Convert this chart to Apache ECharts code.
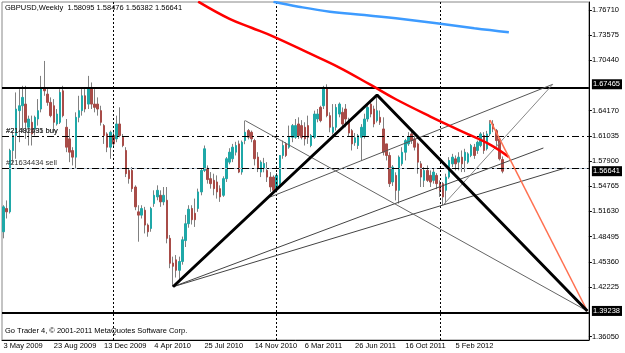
<!DOCTYPE html>
<html>
<head>
<meta charset="utf-8">
<script src="https://cdn.jsdelivr.net/npm/echarts@6/dist/echarts.min.js"></script>
<style>
  html, body { margin: 0; padding: 0; background: #fff; }
  #main { width: 625px; height: 353px; }
</style>
</head>
<body>
<div id="main"></div>
<script>
// weekly bars, first one is the week of 3 May 2009
var firstWeek = Date.UTC(2009, 4, 3)
var weekCount = 187
var monthNames = ['Jan', 'Feb', 'Mar', 'Apr', 'May', 'Jun', 'Jul', 'Aug', 'Sep', 'Oct', 'Nov', 'Dec']

var opens = [1.4910, 1.5199, 1.5158, 1.5922, 1.6108, 1.6418, 1.6479, 1.6500, 1.6211, 1.6273,
  1.6190, 1.6314, 1.6438, 1.6707, 1.6624, 1.6521, 1.6479, 1.6252, 1.6273, 1.6665,
  1.6211, 1.6067, 1.5921, 1.5839, 1.6335, 1.6418, 1.6603, 1.6500, 1.6707, 1.6500,
  1.6500, 1.6418, 1.6232, 1.6128, 1.5963, 1.6108, 1.6067, 1.6252, 1.6087, 1.5922,
  1.5674, 1.5674, 1.5467, 1.5158, 1.5117, 1.5178, 1.4993, 1.4951, 1.5261, 1.5344,
  1.5364, 1.5282, 1.5302, 1.4828, 1.4520, 1.4560, 1.4430, 1.4540, 1.4800, 1.5010,
  1.5200, 1.5140, 1.5200, 1.5406, 1.5674, 1.5700, 1.5571, 1.5550, 1.5530, 1.5447,
  1.5364, 1.5571, 1.5777, 1.5819, 1.5901, 1.6004, 1.5653, 1.6046, 1.6170, 1.6149,
  1.6046, 1.5840, 1.5653, 1.5695, 1.5674, 1.5591, 1.5591, 1.5447, 1.5509, 1.5860,
  1.6004, 1.5963, 1.6087, 1.6087, 1.6252, 1.6232, 1.6211, 1.6232, 1.5984, 1.6087,
  1.6314, 1.6459, 1.6479, 1.6707, 1.6356, 1.6149, 1.6211, 1.6376, 1.6397, 1.6438,
  1.6290, 1.6169, 1.6020, 1.5984, 1.6087, 1.6107, 1.6314, 1.6500, 1.6438, 1.6293,
  1.6335, 1.6190, 1.6004, 1.5860, 1.5530, 1.5612, 1.5426, 1.5756, 1.5900, 1.6004,
  1.6128, 1.6066, 1.6004, 1.5756, 1.5550, 1.5674, 1.5612, 1.5550, 1.5612, 1.5509,
  1.5509, 1.5426, 1.5591, 1.5756, 1.5818, 1.5777, 1.5839, 1.5798, 1.5777, 1.5860,
  1.5963, 1.5922, 1.5984, 1.6108, 1.5943, 1.6128, 1.6252, 1.6169, 1.6066, 1.58095]

var closes = [1.5220, 1.5158, 1.5922, 1.6108, 1.6438, 1.6479, 1.6583, 1.6273, 1.6314, 1.6128,
  1.6335, 1.6418, 1.6707, 1.6665, 1.6521, 1.6356, 1.6273, 1.6376, 1.6645, 1.6356,
  1.5963, 1.5901, 1.5839, 1.6335, 1.6418, 1.6603, 1.6438, 1.6707, 1.6500, 1.6459,
  1.6438, 1.6273, 1.6108, 1.5963, 1.6149, 1.6004, 1.6252, 1.6108, 1.5984, 1.5633,
  1.5571, 1.5447, 1.5220, 1.5117, 1.5199, 1.4993, 1.4910, 1.5199, 1.5364, 1.5426,
  1.5282, 1.5364, 1.4828, 1.4518, 1.4480, 1.4430, 1.4540, 1.4810, 1.5010, 1.5190,
  1.5060, 1.5060, 1.5406, 1.5674, 1.5943, 1.5560, 1.5509, 1.5447, 1.5406, 1.5344,
  1.5571, 1.5819, 1.5901, 1.5963, 1.5984, 1.5653, 1.6025, 1.6149, 1.6087, 1.6067,
  1.5819, 1.5695, 1.5777, 1.5760, 1.5591, 1.5468, 1.5426, 1.5612, 1.5860, 1.5984,
  1.5860, 1.6087, 1.6232, 1.6232, 1.6108, 1.6087, 1.6067, 1.6087, 1.6108, 1.6376,
  1.6376, 1.6294, 1.6707, 1.6356, 1.6211, 1.6211, 1.6458, 1.6500, 1.6252, 1.6314,
  1.6140, 1.6004, 1.6080, 1.6107, 1.6211, 1.6314, 1.6458, 1.6376, 1.6252, 1.6417,
  1.6273, 1.5901, 1.5860, 1.5509, 1.5715, 1.5426, 1.5839, 1.5900, 1.6045, 1.6087,
  1.6045, 1.5963, 1.5777, 1.5591, 1.5674, 1.5550, 1.5529, 1.5653, 1.5509, 1.5426,
  1.5343, 1.5591, 1.5798, 1.5839, 1.5756, 1.5839, 1.5756, 1.5900, 1.5880, 1.5984,
  1.5860, 1.6025, 1.6128, 1.5922, 1.6128, 1.6252, 1.6190, 1.6045, 1.5818, 1.56641]

var lows = [1.4828, 1.5075, 1.5137, 1.5750, 1.5819, 1.6025, 1.6149, 1.6067, 1.5984, 1.5984,
  1.6108, 1.6232, 1.6397, 1.6603, 1.6479, 1.6335, 1.6149, 1.6232, 1.6252, 1.6335,
  1.5901, 1.5777, 1.5736, 1.5695, 1.6273, 1.6356, 1.6397, 1.6438, 1.6438, 1.6397,
  1.6356, 1.6232, 1.6004, 1.5901, 1.5819, 1.5963, 1.6025, 1.6087, 1.5963, 1.5591,
  1.5509, 1.5406, 1.5178, 1.4786, 1.5075, 1.4889, 1.4848, 1.4910, 1.5220, 1.5302,
  1.5220, 1.5240, 1.4766, 1.4456, 1.4225, 1.4340, 1.4300, 1.4500, 1.4720, 1.4960,
  1.5000, 1.4970, 1.5158, 1.5364, 1.5653, 1.5509, 1.5447, 1.5364, 1.5323, 1.5282,
  1.5344, 1.5530, 1.5750, 1.5777, 1.5860, 1.5640, 1.5620, 1.6000, 1.6060, 1.6025,
  1.5736, 1.5653, 1.5591, 1.5650, 1.5530, 1.5406, 1.5385, 1.5400, 1.5468, 1.5819,
  1.5840, 1.5943, 1.6025, 1.6067, 1.6067, 1.6060, 1.5984, 1.6004, 1.5963, 1.6067,
  1.6273, 1.6273, 1.6438, 1.6335, 1.6149, 1.6120, 1.6169, 1.6335, 1.6211, 1.6211,
  1.6100, 1.5922, 1.5980, 1.5940, 1.5798, 1.6070, 1.6280, 1.6335, 1.6211, 1.6270,
  1.6240, 1.5860, 1.5798, 1.5467, 1.5480, 1.5300, 1.5261, 1.5730, 1.5798, 1.5980,
  1.6004, 1.5922, 1.5633, 1.5467, 1.5467, 1.5530, 1.5467, 1.5509, 1.5440, 1.5343,
  1.5240, 1.5261, 1.5570, 1.5715, 1.5674, 1.5674, 1.5653, 1.5653, 1.5756, 1.5839,
  1.5818, 1.5880, 1.5963, 1.5880, 1.5922, 1.6100, 1.6150, 1.5980, 1.5798, 1.56382]

var highs = [1.5240, 1.5300, 1.5943, 1.6170, 1.6645, 1.6686, 1.6727, 1.6727, 1.6356, 1.6356,
  1.6356, 1.6562, 1.6851, 1.7037, 1.6686, 1.6583, 1.6562, 1.6438, 1.6686, 1.6727,
  1.6314, 1.6190, 1.5963, 1.6397, 1.6603, 1.6686, 1.6686, 1.6851, 1.6769, 1.6686,
  1.6583, 1.6479, 1.6252, 1.6149, 1.6170, 1.6170, 1.6356, 1.6459, 1.6128, 1.5963,
  1.5695, 1.5715, 1.5488, 1.5240, 1.5240, 1.5220, 1.5013, 1.5220, 1.5426, 1.5488,
  1.5426, 1.5467, 1.5467, 1.4869, 1.4600, 1.4620, 1.4600, 1.4850, 1.5120, 1.5240,
  1.5240, 1.5323, 1.5447, 1.5695, 1.5984, 1.5736, 1.5653, 1.5633, 1.5612, 1.5488,
  1.5600, 1.5840, 1.5950, 1.6004, 1.6030, 1.6046, 1.6046, 1.6294, 1.6190, 1.6170,
  1.6067, 1.5901, 1.5800, 1.5830, 1.5777, 1.5653, 1.5612, 1.5640, 1.5860, 1.6046,
  1.6025, 1.6232, 1.6252, 1.6314, 1.6335, 1.6300, 1.6273, 1.6356, 1.6128, 1.6418,
  1.6438, 1.6479, 1.6727, 1.6746, 1.6397, 1.6500, 1.6500, 1.6520, 1.6458, 1.6500,
  1.6330, 1.6190, 1.6140, 1.6128, 1.6250, 1.6380, 1.6480, 1.6530, 1.6480, 1.6600,
  1.6420, 1.6335, 1.6000, 1.5900, 1.5740, 1.5650, 1.5860, 1.5963, 1.6066, 1.6150,
  1.6166, 1.6100, 1.6020, 1.5790, 1.5715, 1.5736, 1.5674, 1.5700, 1.5640, 1.5550,
  1.5530, 1.5633, 1.5839, 1.5880, 1.5860, 1.5900, 1.5922, 1.5943, 1.5900, 1.6004,
  1.6004, 1.6045, 1.6150, 1.6150, 1.6166, 1.6300, 1.6300, 1.6190, 1.6080, 1.58476]

// moving averages, [bar index, price]
var maRed = [[62, 1.7775], [72, 1.7560], [79, 1.7450], [86, 1.7340], [97, 1.7140], [107, 1.6955],
  [117, 1.6738], [125, 1.6560], [136, 1.6345], [146, 1.6160], [155, 1.5995], [161, 1.5841]]
var maBlue = [[86, 1.7775], [94, 1.7713], [104, 1.7651], [115, 1.7610], [125, 1.7568],
  [138, 1.7506], [150, 1.7444], [161, 1.7394]]

// drawn objects
var apex = [186, 1.3923]
var bigTriangle = [[54, 1.4225], [119, 1.6613], apex]
var redFall = [[155, 1.6300], apex]
var grayFall = [[77, 1.6294], apex]
var fanA = [[54, 1.4225], [172, 1.5953]]
var fanB = [[54, 1.4225], [179, 1.5704]]
var riseA = [[85, 1.5343], [175, 1.6746]]
var riseB = [[140, 1.5240], [175, 1.6746]]
var levelLines = [1.67465, 1.39238]
var orders = [
  {name: '#21482491 buy', price: 1.6144, color: '#9a9a9a'},
  {name: '#21491535 buy', price: 1.6074, color: '#000'},
  {name: '#21634434 sell', price: 1.5688, color: '#000'}
]
var bid = 1.56641
var separators = [35, 87, 139]

var yTicks = [1.36050, 1.42225, 1.45360, 1.48495, 1.51630, 1.54765, 1.57900, 1.61035,
  1.64170, 1.70440, 1.73575, 1.76710]
var boxed = [1.67465, 1.56641, 1.39238]

var dates = []
for (var w = 0; w < weekCount; w++) {
  var d = new Date(firstWeek + w * 7 * 86400000)
  dates.push(d.getUTCDate() + ' ' + monthNames[d.getUTCMonth()] + ' ' + d.getUTCFullYear())
}

var wickData = lows.map(function(l, i) { return [l, l, l, highs[i]] })
var bodyData = opens.map(function(o, i) {
  var c = closes[i]
  return [o, c, Math.min(o, c), Math.max(o, c)]
})

// date labels only every 16 weeks and only under real bars
function dateStep(index) {
  return index % 16 === 0 && index < opens.length
}

function segment(data, color, width, z, smooth) {
  return {
    type: 'line', data: data, symbol: 'none', silent: true, z: z || 5, smooth: smooth || false,
    lineStyle: {color: color, width: width}
  }
}

var font = 'Liberation Sans'
var myChart = echarts.init(document.getElementById('main'))
var option = {
  animation: false,
  backgroundColor: '#fff',
  textStyle: {fontFamily: font},
  grid: {left: 2, right: 32, top: 2, bottom: 13, show: true, borderColor: '#888', borderWidth: 1},
  xAxis: {
    type: 'category',
    data: dates,
    boundaryGap: true,
    axisLine: {lineStyle: {color: '#000'}},
    axisTick: {interval: dateStep, alignWithLabel: true, length: 3, lineStyle: {color: '#000'}},
    axisLabel: {interval: dateStep, align: 'left', margin: 2, fontSize: 7.5, color: '#000', fontFamily: font},
    splitLine: {show: false}
  },
  yAxis: {
    type: 'value',
    position: 'right',
    min: 1.3562,
    max: 1.7771,
    axisLine: {show: true, lineStyle: {color: '#000'}},
    axisTick: {show: true, length: 3, customValues: yTicks, lineStyle: {color: '#000'}},
    splitLine: {show: false},
    axisLabel: {
      customValues: yTicks.concat(boxed),
      margin: 3,
      fontSize: 7.5,
      color: '#000',
      fontFamily: font,
      formatter: function(v) {
        var s = v.toFixed(5)
        return boxed.indexOf(v) >= 0 ? '{box|' + s + '}' : s
      },
      rich: {
        box: {backgroundColor: '#000', color: '#fff', fontSize: 7.5, fontFamily: font, padding: [1, 2, 1, 1]}
      }
    }
  },
  graphic: [
    {type: 'text', left: 5, top: 4, style: {text: 'GBPUSD,Weekly  1.58095 1.58476 1.56382 1.56641', fill: '#000', font: '7.5px ' + font}},
    {type: 'text', left: 5, top: 327, style: {text: 'Go Trader 4, \u00a9 2001-2011 MetaQuotes Software Corp.', fill: '#000', font: '7.5px ' + font}}
  ],
  series: [
    {
      name: 'wick', type: 'candlestick', data: wickData, barWidth: 1, silent: true, z: 2,
      itemStyle: {color: '#808080', color0: '#808080', borderColor: '#808080', borderColor0: '#808080', borderWidth: 1}
    },
    {
      name: 'GBPUSD', type: 'candlestick', data: bodyData, barWidth: 2, silent: true, z: 3,
      itemStyle: {color: '#1fa8a8', color0: '#a84c48', borderColor: '#1fa8a8', borderColor0: '#a84c48', borderWidth: 1},
      markLine: {
        silent: true, symbol: 'none', animation: false,
        label: {show: false},
        lineStyle: {color: '#000', type: [2, 2], width: 1},
        data: separators.map(function(s) { return {xAxis: s} })
      }
    },
    {
      type: 'line', data: [], silent: true, z: 4,
      markLine: {
        silent: true, symbol: 'none', animation: false,
        data: [
          {yAxis: bid, lineStyle: {color: '#b0c0d0', type: 'solid', width: 1}, label: {show: false}}
        ].concat(orders.map(function(o) {
          return {
            yAxis: o.price,
            lineStyle: {color: o.color, type: [7, 3, 2, 3], width: 1},
            label: {show: true, formatter: o.name, position: 'insideStartTop', distance: [4, 1],
              color: '#333', fontSize: 7.5, fontFamily: font}
          }
        })).concat(levelLines.map(function(v) {
          return {yAxis: v, lineStyle: {color: '#000', type: 'solid', width: 2}, label: {show: false}}
        }))
      }
    },
    segment(maRed, '#ff0000', 2.5, 6, 0.4),
    segment(maBlue, '#3d9bff', 2.5, 6, 0.4),
    segment(fanA, '#444', 1),
    segment(fanB, '#444', 1),
    segment(riseA, '#555', 1),
    segment(riseB, '#888', 1),
    segment(grayFall, '#666', 1),
    segment(redFall, '#ff7050', 1.5, 7),
    segment(bigTriangle, '#000', 3, 7)
  ]
}
myChart.setOption(option)
</script>
</body>
</html>
